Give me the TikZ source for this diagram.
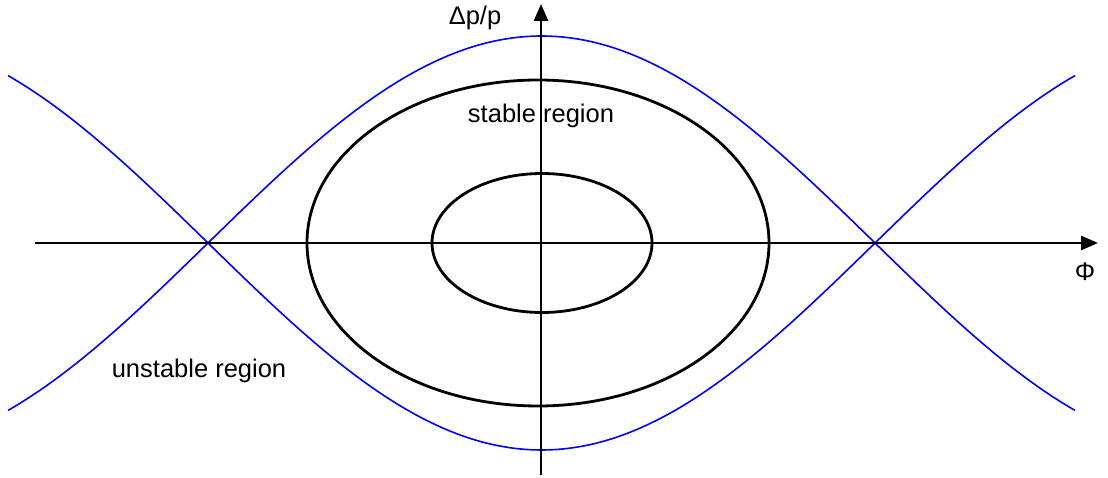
\documentclass[tikz,border=0pt]{standalone}
\usepackage{fontspec}
\setmainfont{Liberation Sans}
\usetikzlibrary{arrows.meta}
\begin{document}
\begin{tikzpicture}[x=1pt,y=-1pt,
  axis/.style={line width=2.8pt,-{Triangle[length=17pt,width=14pt]}},
  orbit/.style={line width=2.8pt},
  sep/.style={blue,line width=1.6pt},
  lbl/.style={font=\fontsize{25.5}{30}\selectfont,inner sep=0pt}]
\useasboundingbox (0,0) rectangle (1108,478);
\coordinate (c) at (541,243);
\coordinate (xl) at (35,243);
\coordinate (xr) at (1098,243);
\coordinate (yb) at (541,475);
\coordinate (yt) at (541,4);
\draw[sep,domain=8:1075,samples=200,smooth] plot (\x,{243-207*cos(deg(pi*(\x-541.5)/667))});
\draw[sep,domain=8:1075,samples=200,smooth] plot (\x,{243+207*cos(deg(pi*(\x-541.5)/667))});
\draw[orbit] (538,243) ellipse [x radius=231,y radius=163];
\draw[orbit] (542,243) ellipse [x radius=110,y radius=69.5];
\draw[axis] (xl) -- (xr);
\draw[axis] (yb) -- (yt);
\node[lbl] (dp) at (475,18) {Δp/p};
\node[lbl] (phi) at (1085,272) {Φ};
\node[lbl] (st) at (541,116) {stable region};
\node[lbl] (un) at (199,371) {unstable region};
\end{tikzpicture}
\end{document}
